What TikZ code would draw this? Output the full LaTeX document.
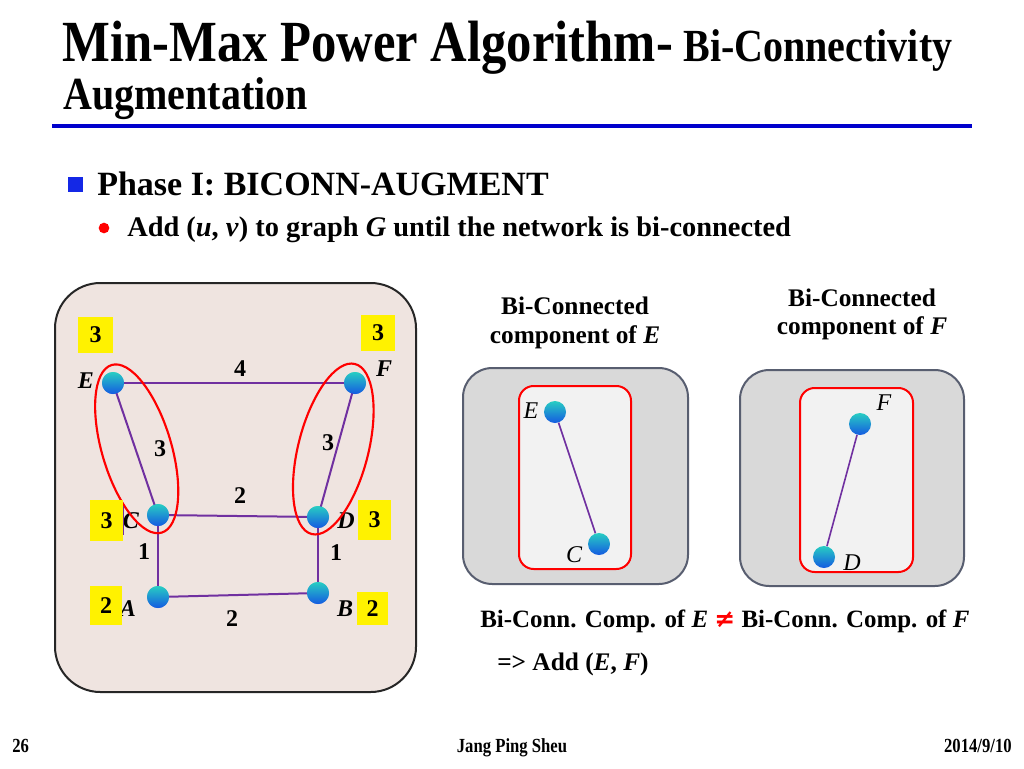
\documentclass[tikz,border=0pt]{standalone}
\usepackage{fontspec}
\setmainfont{Liberation Serif}
\newfontfamily\dejavu{DejaVu Sans}
\usepackage{graphicx}
\definecolor{purp}{RGB}{112,48,160}
\definecolor{panelbg}{RGB}{239,228,224}
\definecolor{graybg}{RGB}{217,217,217}
\definecolor{grayborder}{RGB}{88,94,112}
\definecolor{innerbg}{RGB}{242,242,242}
\definecolor{ruleblue}{RGB}{0,0,204}
\definecolor{balltop}{RGB}{40,205,195}
\definecolor{ballbot}{RGB}{20,90,225}
\definecolor{sqblue}{RGB}{20,40,230}
\newcommand{\fs}[1]{\fontsize{#1}{#1}\selectfont}
\begin{document}
\begin{tikzpicture}[x=0.75pt,y=0.75pt,
  edge/.style={draw=purp, line width=1.5pt},
  ball/.style={circle, inner sep=0pt, minimum size=16.5pt, top color=balltop, bottom color=ballbot, draw=none},
  wlab/.style={font=\fs{18}\bfseries, inner sep=0pt},
  nlab/.style={font=\fs{18}\bfseries\itshape, inner sep=0pt},
  plab/.style={font=\fs{18}\itshape, inner sep=0pt},
  ybox/.style={fill=yellow, draw=none, inner sep=0pt, font=\fs{18}\bfseries},
  ring/.style={draw=red, line width=1.6pt},
  txt/.style={inner sep=0pt, anchor=base west},
]
\useasboundingbox (0,0) rectangle (1024,-768);
\fill[white] (0,0) rectangle (1024,-768);

% title
\node[txt] (t1) at (62,-61) {\scalebox{1}[1.15]{\fs{38}\bfseries Min-Max Power Algorithm-}};
\node[txt] (t2) at (t1.base east) {\scalebox{1}[1.15]{\fs{30}\bfseries\ Bi-Connectivity}};
\node[txt] (t3) at (63,-109) {\scalebox{1}[1.15]{\fs{30}\bfseries Augmentation}};
\draw[ruleblue, line width=2.3pt] (52,-126) -- (972,-126);

% bullets
\fill[sqblue] (68,-177) rectangle (83,-192);
\node[txt] (ph) at (97,-195) {\fs{25.5}\bfseries Phase I: BICONN-AUGMENT};
\fill[red] (104,-228) circle (4pt);
\node[txt] (ad) at (127,-236) {\fs{21.3}\bfseries Add (\textit{u}, \textit{v}) to graph \textit{G} until the network is bi-connected};

% left panel
\draw[draw=black!85, fill=panelbg, line width=1.5pt, rounded corners=34pt] (55,-283) rectangle (416,-692);

\node[ball] (E) at (113,-383) {};
\node[ball] (F) at (355,-383) {};
\node[ball] (C) at (158,-515) {};
\node[ball] (D) at (318,-517) {};
\node[ball] (A) at (158,-597) {};
\node[ball] (B) at (318,-593) {};
\draw[edge] (E.center) -- (F.center);
\draw[edge] (E.center) -- (C.center);
\draw[edge] (F.center) -- (D.center);
\draw[edge] (C.center) -- (D.center);
\draw[edge] (C.center) -- (A.center);
\draw[edge] (D.center) -- (B.center);
\draw[edge] (A.center) -- (B.center);
% redraw balls on top of the edges
\foreach \n/\x/\y in {E2/113/383,F2/355/383,C2/158/515,D2/318/517,A2/158/597,B2/318/593}
  \node[ball] (\n) at (\x,-\y) {};

\node[wlab] (w1) at (240,-369) {4};
\node[wlab] (w2) at (160,-449) {3};
\node[wlab] (w3) at (328,-443) {3};
\node[wlab] (w4) at (240,-496) {2};
\node[wlab] (w5) at (144,-552) {1};
\node[wlab] (w6) at (336,-553) {1};
\node[wlab] (w7) at (232,-619) {2};

\node[nlab] (lE) at (86,-381) {E};
\node[nlab] (lF) at (384,-369) {F};
\node[nlab] (lC) at (131,-521) {C};
\node[nlab] (lD) at (346,-521) {D};
\node[nlab] (lA) at (128,-609) {A};
\node[nlab] (lB) at (345,-609) {B};

\draw[ring, rotate around={16.6:(136.7,-448.8)}] (136.7,-448.8) ellipse [x radius=26pt, y radius=65.6pt];
\draw[ring, rotate around={-14.3:(333.3,-449)}] (333.3,-449) ellipse [x radius=26.3pt, y radius=65.8pt];

\draw[purp, line width=1.5pt] (123,-506) -- (123,-535);
\node[ybox, minimum width=26.25pt, minimum height=27pt] (yE) at (95.5,-335) {3};
\node[ybox, minimum width=25.5pt, minimum height=27pt] (yF) at (378,-333) {3};
\node[ybox, minimum width=24.75pt, minimum height=30.75pt] (yC) at (106.5,-520.5) {3};
\node[ybox, minimum width=24.75pt, minimum height=30pt] (yD) at (374.5,-520) {3};
\node[ybox, minimum width=24pt, minimum height=29.25pt] (yA) at (106,-605.5) {2};
\node[ybox, minimum width=23.25pt, minimum height=24.75pt] (yB) at (372.5,-608.5) {2};

% right panels
\node[inner sep=0pt, font=\fs{19}\bfseries] (tE1) at (575,-306) {Bi-Connected};
\node[inner sep=0pt, font=\fs{19}\bfseries] (tE2) at (575,-337) {component of \textit{E}};
\node[inner sep=0pt, font=\fs{19}\bfseries] (tF1) at (862,-298) {Bi-Connected};
\node[inner sep=0pt, font=\fs{19}\bfseries] (tF2) at (862,-328) {component of \textit{F}};

\draw[draw=grayborder, fill=graybg, line width=1.5pt, rounded corners=22pt] (463,-368) rectangle (688,-584);
\draw[draw=red, fill=innerbg, line width=1.5pt, rounded corners=11pt] (519,-386) rectangle (631,-569);
\draw[draw=grayborder, fill=graybg, line width=1.5pt, rounded corners=22pt] (740,-370) rectangle (964,-586);
\draw[draw=red, fill=innerbg, line width=1.5pt, rounded corners=11pt] (800,-388) rectangle (913,-572);

\node[ball] (pE) at (555,-412) {};
\node[ball] (pC) at (599,-544) {};
\node[ball] (pF) at (860,-424) {};
\node[ball] (pD) at (824,-557) {};
\draw[edge, line width=1.2pt] (pE) -- (pC);
\draw[edge, line width=1.2pt] (pF) -- (pD);
\node[plab] (qE) at (531,-411) {E};
\node[plab] (qC) at (574,-555) {C};
\node[plab] (qF) at (884,-403) {F};
\node[plab] (qD) at (852,-563) {D};

% bottom text
\node[txt] (b1) at (480,-627) {\fs{18.7}\bfseries Bi-Conn. Comp. of \textit{E} {\color{red}\dejavu\bfseries ≠} Bi-Conn. Comp. of \textit{F}};
\node[txt] (b2) at (497,-670) {\fs{19}\bfseries => Add (\textit{E}, \textit{F})};

% footer
\node[txt] (f1) at (12,-752) {\scalebox{1}[1.2]{\fs{12.5}\bfseries 26}};
\node[inner sep=0pt, anchor=base] (f2) at (512,-752) {\scalebox{1}[1.2]{\fs{12.5}\bfseries Jang Ping Sheu}};
\node[inner sep=0pt, anchor=base east] (f3) at (1012,-752) {\scalebox{1}[1.2]{\fs{12.5}\bfseries 2014/9/10}};
\end{tikzpicture}
\end{document}
